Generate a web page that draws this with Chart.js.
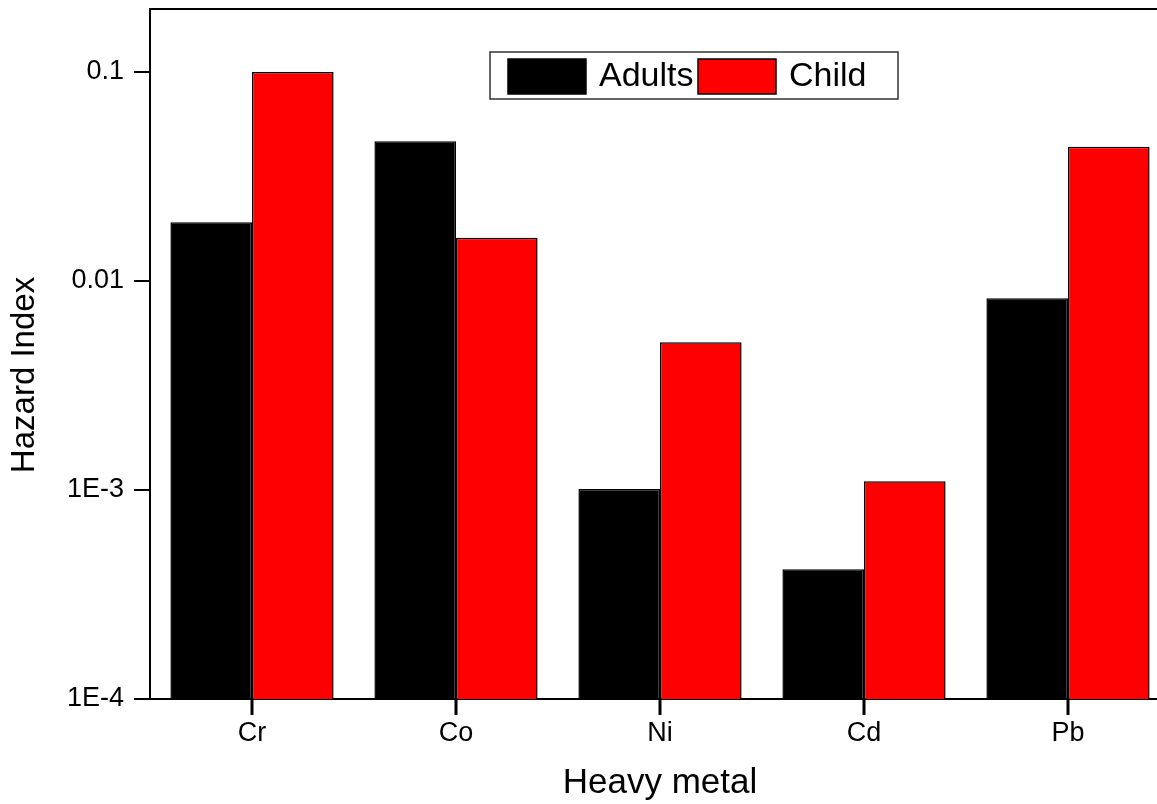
<!DOCTYPE html>
<html>
<head>
<meta charset="utf-8">
<script src="https://cdn.jsdelivr.net/npm/chart.js@4.4.1/dist/chart.umd.min.js"></script>
<style>
  html, body { margin: 0; padding: 0; overflow: hidden; background: #fff; }
  #wrap { width: 1170px; height: 804px; }
</style>
</head>
<body>
<div id="wrap"><canvas id="hazardChart"></canvas></div>
<script>
const metals = ['Cr', 'Co', 'Ni', 'Cd', 'Pb'];
const adults = [0.0191, 0.0466, 0.00101, 0.000418, 0.00827];
const child = [0.1, 0.0161, 0.00509, 0.0011, 0.0439];
const yTickValues = [1e-4, 1e-3, 1e-2, 1e-1];
const yTickLabels = ['1E-4', '1E-3', '0.01', '0.1'];

const FONT = "'Liberation Sans', Arial, sans-serif";

// frame top line, x tick marks, y title and legend box
const framePlugin = {
  id: 'frame',
  afterDraw(chart) {
    const { ctx, chartArea: a } = chart;
    const xScale = chart.scales.x;
    ctx.save();
    ctx.strokeStyle = '#000';
    ctx.lineWidth = 2;
    ctx.beginPath();
    ctx.moveTo(a.left, a.top);
    ctx.lineTo(a.right, a.top);
    ctx.lineTo(a.right, a.bottom);
    ctx.stroke();

    // category tick marks below the axis
    ctx.fillStyle = '#000';
    metals.forEach((m, i) => {
      const px = Math.round(xScale.getPixelForValue(i));
      ctx.fillRect(px - 1.5, a.bottom, 3, 16);
    });

    // y axis title (sits a bit below the plot centre in the original)
    ctx.save();
    ctx.translate(25, 375);
    ctx.rotate(-Math.PI / 2);
    ctx.font = '33px ' + FONT;
    ctx.fillStyle = '#000';
    ctx.textAlign = 'center';
    ctx.textBaseline = 'middle';
    ctx.fillText('Hazard Index', 0, 0);
    ctx.restore();

    // legend
    const bx = a.left + 340, by = a.top + 43, bw = 408, bh = 47;
    ctx.lineWidth = 1.5;
    ctx.strokeStyle = '#333';
    ctx.strokeRect(bx, by, bw, bh);
    ctx.font = '34px ' + FONT;
    ctx.textBaseline = 'middle';
    ctx.textAlign = 'left';
    let x = bx + 18;
    chart.data.datasets.forEach(ds => {
      ctx.fillStyle = ds.backgroundColor;
      ctx.fillRect(x, by + 7, 78, 35);
      ctx.lineWidth = 1.5;
      ctx.strokeStyle = '#000';
      ctx.strokeRect(x, by + 7, 78, 35);
      ctx.fillStyle = '#000';
      ctx.fillText(ds.label, x + 91, by + bh / 2 + 1);
      x += 190;
    });
    ctx.restore();
  }
};

new Chart(document.getElementById('hazardChart').getContext('2d'), {
  type: 'bar',
  data: {
    labels: metals,
    datasets: [
      {
        label: 'Adults',
        data: adults,
        backgroundColor: '#000000',
        borderColor: '#000000',
        borderWidth: 1.5,
        categoryPercentage: 0.8,
        barPercentage: 1.0
      },
      {
        label: 'Child',
        data: child,
        backgroundColor: '#ff0000',
        borderColor: '#000000',
        borderWidth: 1.5,
        categoryPercentage: 0.8,
        barPercentage: 1.0
      }
    ]
  },
  options: {
    responsive: true,
    maintainAspectRatio: false,
    animation: false,
    layout: { padding: { top: 9, left: 0, right: 0, bottom: 0 } },
    plugins: {
      legend: { display: false },
      tooltip: { enabled: false }
    },
    scales: {
      x: {
        grid: { display: false },
        border: { display: true, color: '#000', width: 2 },
        ticks: {
          color: '#000',
          padding: 10,
          font: { size: 27, family: FONT }
        },
        title: {
          display: true,
          text: 'Heavy metal',
          color: '#000',
          padding: { top: 0, bottom: 0 },
          font: { size: 35, family: FONT }
        },
        afterFit(scale) {
          scale.height = 105;
          scale.paddingLeft = 0;
          scale.paddingRight = 0;
        }
      },
      y: {
        type: 'logarithmic',
        min: 1e-4,
        max: 0.2,
        afterBuildTicks(scale) {
          scale.ticks = yTickValues.map(v => ({ value: v }));
        },
        grid: {
          display: true,
          drawOnChartArea: false,
          drawTicks: true,
          tickLength: 16,
          color: '#000',
          lineWidth: 2
        },
        border: { display: true, color: '#000', width: 2 },
        ticks: {
          color: '#000',
          padding: 10,
          font: { size: 27, family: FONT },
          callback: (value, index) => yTickLabels[index]
        },
        title: { display: false },
        afterFit(scale) {
          scale.width = 150;
          scale.paddingTop = 0;
          scale.paddingBottom = 0;
        }
      }
    }
  },
  plugins: [framePlugin]
});
</script>
</body>
</html>
